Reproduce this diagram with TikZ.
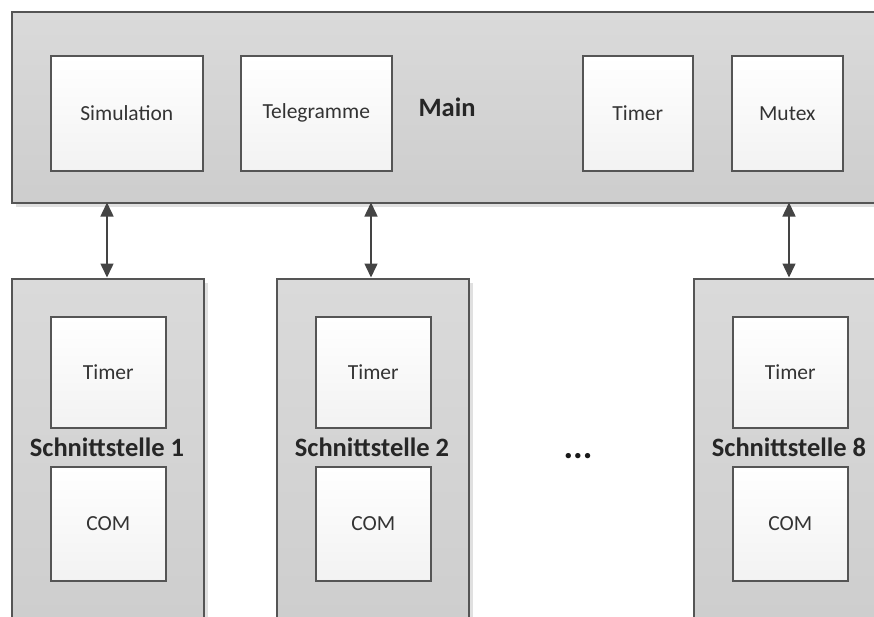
\documentclass[tikz,border=0pt]{standalone}
\usepackage{fontspec}
\setmainfont{Carlito}
\usetikzlibrary{arrows.meta,shadows}
\definecolor{edge}{HTML}{555555}
\definecolor{arr}{HTML}{444444}
\tikzset{
  outerbox/.style={draw=edge, line width=1.5pt, top color=gray!29, bottom color=gray!39,
    rectangle, inner sep=0pt, anchor=north west,
    drop shadow={shadow xshift=4pt, shadow yshift=-4pt, fill=black!12, opacity=1}},
  innerbox/.style={draw=edge, line width=1.5pt, top color=white, bottom color=gray!10,
    rectangle, inner sep=0pt, anchor=north west, font=\fontsize{21.5}{24}\selectfont, text=black!80},
  boldlabel/.style={font=\bfseries\fontsize{26.5}{30}\selectfont, text=black!85},
  biarrow/.style={draw=arr, line width=1.5pt, {Triangle[width=13pt,length=14pt]}-{Triangle[width=13pt,length=14pt]}, shorten <=0.5pt, shorten >=0.5pt}
}
\begin{document}
\begin{tikzpicture}[x=1pt,y=-1pt]
\useasboundingbox (0,0) rectangle (874,616);
\clip (0,0) rectangle (874,616);
% Main
\node[outerbox, minimum width=880pt, minimum height=191pt] (main) at (11,11) {};
\node[innerbox, minimum width=152pt, minimum height=115pt] (sim) at (50,55) {Simulation};
\node[innerbox, minimum width=151pt, minimum height=115pt] (tel) at (240,55) {Telegramme};
\node[boldlabel] (mainlbl) at (447,107) {Main};
\node[innerbox, minimum width=110pt, minimum height=115pt] (mtimer) at (582,55) {Timer};
\node[innerbox, minimum width=111pt, minimum height=115pt] (mutex) at (731,55) {Mutex};
% Schnittstellen
\foreach \n/\x/\lbl in {s1/11/Schnittstelle 1, s2/276/Schnittstelle 2, s8/693/Schnittstelle 8}{
  \node[outerbox, minimum width=192pt, minimum height=360pt] (\n) at (\x,278) {};
  \node[innerbox, minimum width=115pt, minimum height=111pt] (\n timer) at (\x+39,316) {Timer};
  \node[boldlabel] (\n lbl) at (\x+96,447) {\lbl};
  \node[innerbox, minimum width=115pt, minimum height=114pt] (\n com) at (\x+39,466) {COM};
}
\node[font=\bfseries\fontsize{36}{40}\selectfont, text=black!90] (dots) at (578,456) {...};
% coordinates on main's bottom edge
\coordinate (m1) at (107,202);
\coordinate (m2) at (371,202);
\coordinate (m8) at (789,202);
\draw[biarrow] (m1) -- (s1.north west -| m1);
\draw[biarrow] (m2) -- (s2.north west -| m2);
\draw[biarrow] (m8) -- (s8.north west -| m8);
\end{tikzpicture}
\end{document}
